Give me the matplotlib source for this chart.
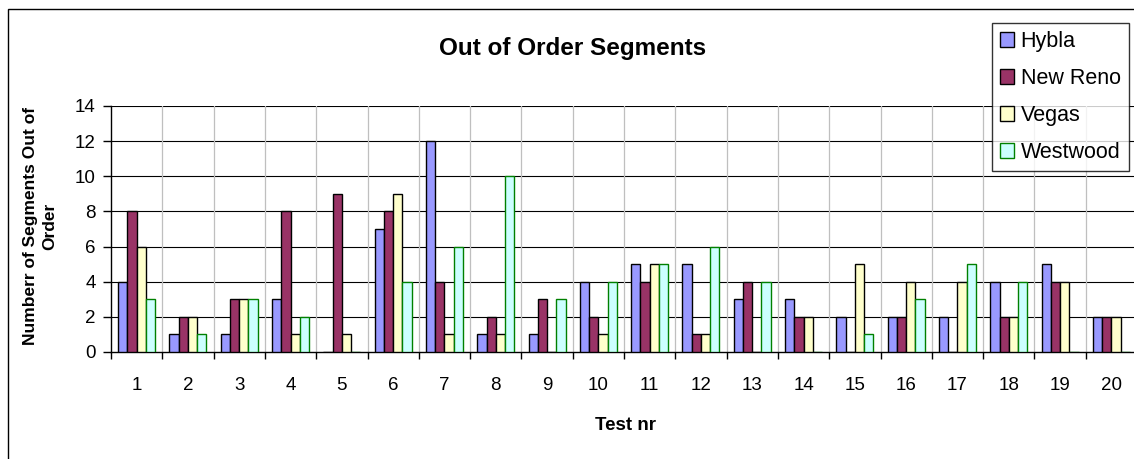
import matplotlib
matplotlib.use('Agg')
import matplotlib.pyplot as plt
from matplotlib.patches import Rectangle
import numpy as np

plt.rcParams['font.family'] = ['Liberation Sans', 'DejaVu Sans']

# 資料
tests = [str(i) for i in range(1, 21)]
hybla = [4, 1, 1, 3, 0, 7, 12, 1, 1, 4, 5, 5, 3, 3, 2, 2, 2, 4, 5, 2]
new_reno = [8, 2, 3, 8, 9, 8, 4, 2, 3, 2, 4, 1, 4, 2, 0, 2, 0, 2, 4, 2]
vegas = [6, 2, 3, 1, 1, 9, 1, 1, 0, 1, 5, 1, 0, 2, 5, 4, 4, 2, 4, 2]
westwood = [3, 1, 3, 2, 0, 4, 6, 10, 3, 4, 5, 6, 4, 0, 1, 3, 5, 4, 0, 0]
series_names = ['Hybla', 'New Reno', 'Vegas', 'Westwood']

W, H = 1134, 459
fig = plt.figure(figsize=(W / 100, H / 100), dpi=100)
ax = fig.add_axes([111 / W, 1 - 352 / H, (1137 - 111) / W, (352 - 106) / H])

index = np.arange(len(tests))
bar_width = 0.18
styles = [
    (hybla, '#9999FF', 'black'),
    (new_reno, '#993366', 'black'),
    (vegas, '#FFFFCC', 'black'),
    (westwood, '#CCFFFF', '#008000'),
]
for k, (vals, fc, ec) in enumerate(styles):
    ax.bar(index + (k - 1.5) * bar_width, vals, bar_width, color=fc,
           edgecolor=ec, linewidth=1.0, label=series_names[k], zorder=3)

ax.set_xlim(-0.5, len(tests) - 0.5)
ax.set_ylim(0, 14)
ax.set_yticks(range(0, 15, 2))
ax.set_xticks(index)
ax.set_xticklabels(tests)
ax.set_xticks(np.arange(-0.5, len(tests), 1), minor=True)

# 格線
for y in range(2, 15, 2):
    ax.axhline(y, color='black', linewidth=0.8, zorder=1)
for x in np.arange(0.5, len(tests) - 0.5, 1):
    ax.axvline(x, color='#BFBFBF', linewidth=0.9, zorder=1)

ax.tick_params(axis='x', which='major', length=0, pad=18, labelsize=13.5)
ax.tick_params(axis='x', which='minor', length=5, width=1, direction='out')
ax.tick_params(axis='y', length=6, width=1, direction='out', pad=5, labelsize=13.5)
for s in ['top', 'right']:
    ax.spines[s].set_visible(False)
for s in ['left', 'bottom']:
    ax.spines[s].set_linewidth(1.0)

fig.text(573 / W, 1 - 48 / H, 'Out of Order Segments', ha='center', va='center',
         fontsize=17.5, fontweight='bold')
fig.text(40 / W, 1 - 226 / H, 'Numberr of Segments Out of\nOrder', ha='center',
         va='center', rotation=90, fontsize=12.5, fontweight='bold',
         multialignment='center', linespacing=1.35)
fig.text(625 / W, 1 - 425 / H, 'Test nr', ha='center', va='center',
         fontsize=13.5, fontweight='bold')

leg = fig.legend(loc='upper left', bbox_to_anchor=(992 / W, 1 - 23 / H),
                 frameon=True, fancybox=False, edgecolor='black', fontsize=15.5,
                 handlelength=0.65, handleheight=0.65, handletextpad=0.3,
                 labelspacing=0.74, borderpad=0.38, borderaxespad=0)
leg.get_frame().set_linewidth(1.0)

# 外框
fig.add_artist(Rectangle((8 / W, -0.1), 1.2, 1 - 9 / H + 0.1, transform=fig.transFigure,
                         fill=False, edgecolor='black', linewidth=1.0))

plt.savefig('out.png', dpi=100)
